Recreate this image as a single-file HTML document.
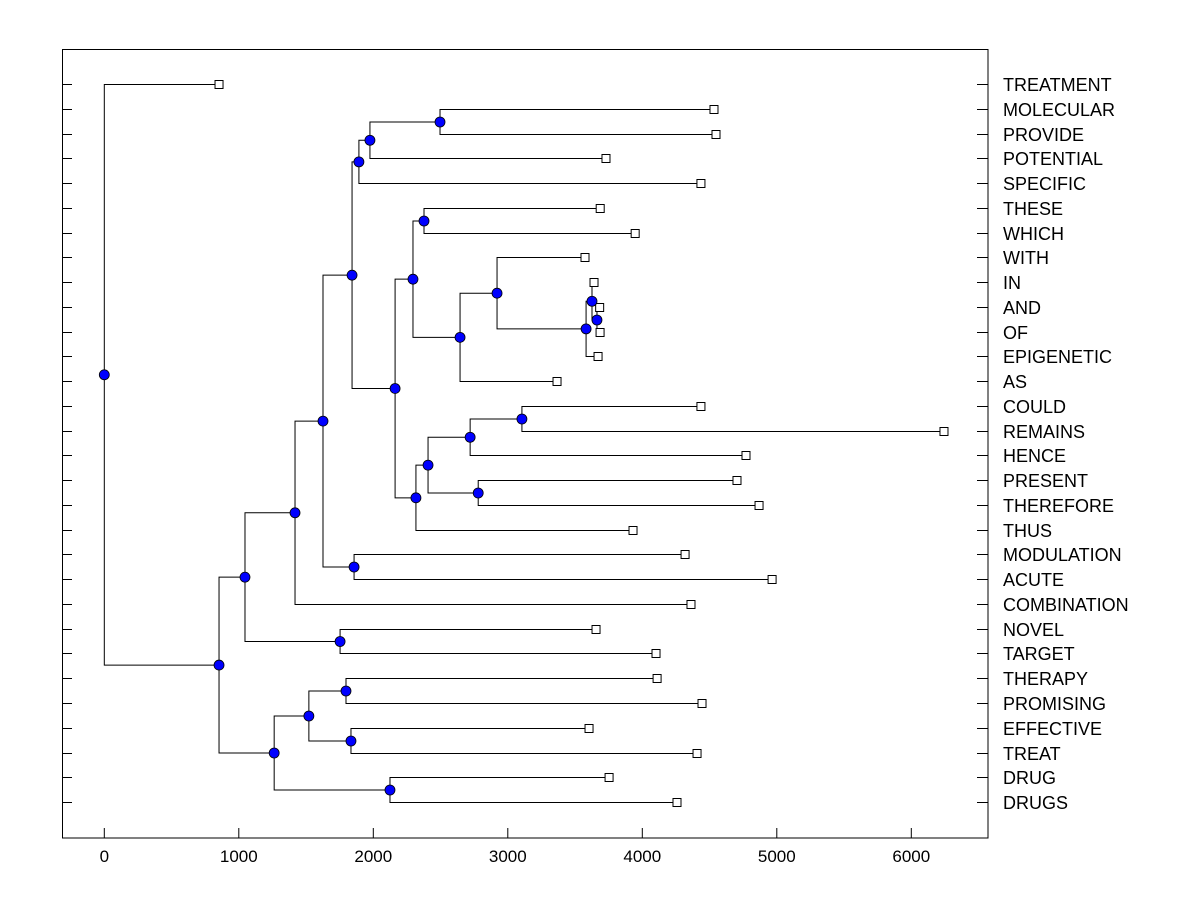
<!DOCTYPE html>
<html><head><meta charset="utf-8"><style>
html,body{margin:0;padding:0;background:#fff;}
svg{display:block;font-family:"Liberation Sans",Arial,sans-serif;}
</style></head><body>
<svg id="chart" width="1200" height="900" viewBox="0 0 1200 900" xmlns="http://www.w3.org/2000/svg">
<rect x="0" y="0" width="1200" height="900" fill="#fff"/>
<rect x="62.5" y="49.5" width="925.5" height="788.5" fill="none" stroke="#000" stroke-width="1"/>
<g id="axes"></g>
<g id="links"></g>
<g id="marks"></g>
</svg>
<script>
const leaves = ["TREATMENT","MOLECULAR","PROVIDE","POTENTIAL","SPECIFIC","THESE","WHICH","WITH","IN","AND","OF","EPIGENETIC","AS","COULD","REMAINS","HENCE","PRESENT","THEREFORE","THUS","MODULATION","ACUTE","COMBINATION","NOVEL","TARGET","THERAPY","PROMISING","EFFECTIVE","TREAT","DRUG","DRUGS"];
const leafValues = [853,4533,4548,3730,4436,3687,3947,3574,3641,3683,3686,3671,3366,4436,6243,4771,4704,4868,3931,4318,4965,4362,3656,4102,4110,4444,3604,4407,3753,4258];
// merges: [nodeName, childA, childB]
const mergeNodes = [
 ["mp","MOLECULAR","PROVIDE"],["pot","mp","POTENTIAL"],["spec","pot","SPECIFIC"],
 ["tw","THESE","WHICH"],["ao","AND","OF"],["in","IN","ao"],["epi","in","EPIGENETIC"],
 ["with","WITH","epi"],["as","with","AS"],["twas","tw","as"],
 ["cr","COULD","REMAINS"],["hence","cr","HENCE"],["pt","PRESENT","THEREFORE"],["prt","hence","pt"],["lower","prt","THUS"],
 ["big","twas","lower"],["top","spec","big"],["ma","MODULATION","ACUTE"],["A","top","ma"],["B","A","COMBINATION"],
 ["nt","NOVEL","TARGET"],["C","B","nt"],["tp","THERAPY","PROMISING"],["et","EFFECTIVE","TREAT"],["F","tp","et"],
 ["dd","DRUG","DRUGS"],["E","F","dd"],["D","C","E"],["root","TREATMENT","D"]
];
const mergeHeights = [2496,1975,1893,2377,3663,3626,3582,2920,2645,2295,3105,2720,2780,2407,2317,2162,1842,1857,1626,1418,1753,1046,1797,1834,1521,2124,1263,853,0];
const xTicks = [0,1000,2000,3000,4000,5000,6000];

const NS="http://www.w3.org/2000/svg";
const xs = v => 104.3 + v*0.1345;
const ys = i => 84 + i*24.76;
function mk(tag, attrs, parent){const e=document.createElementNS(NS,tag);for(const k in attrs)e.setAttribute(k,attrs[k]);parent.appendChild(e);return e;}
const axes=document.getElementById('axes'), links=document.getElementById('links'), marks=document.getElementById('marks');

xTicks.forEach(t=>{
  const x=xs(t);
  const l=mk('line',{x1:x,y1:828,x2:x,y2:838,stroke:'#000'},axes);
  
  
  const tx=mk('text',{x:x,y:862,'text-anchor':'middle','font-size':'17'},axes);
  tx.textContent=t;
  
  
});

const pos={};
leaves.forEach((n,i)=>{
  const y=Math.round(ys(i))+0.5;
  pos[n]={x:xs(leafValues[i]),y:y,leaf:true};
  const t1=mk('line',{x1:62,y1:y,x2:72,y2:y,stroke:'#000'},axes);
  
  
  const t2=mk('line',{x1:977,y1:y,x2:988,y2:y,stroke:'#000'},axes);
  
  
  const lb=mk('text',{x:1003,y:y+6.5,'font-size':'18'},axes);
  lb.textContent=n;
  
  
});
mergeNodes.forEach((m,i)=>{
  const a=pos[m[1]], b=pos[m[2]];
  const x=xs(mergeHeights[i]), y=(a.y+b.y)/2;
  pos[m[0]]={x:x,y:y,leaf:false};
  const p=mk('path',{d:`M${a.x},${a.y}H${x}V${b.y}H${b.x}`,fill:'none',stroke:'#000','stroke-width':'1'},links);
  
  
});
leaves.forEach(n=>{
  const p=pos[n];
  const r=mk('rect',{x:p.x-4,y:p.y-4,width:8,height:8,fill:'#fff',stroke:'#000'},marks);
  
  
});
mergeNodes.forEach(m=>{
  const p=pos[m[0]];
  const c=mk('circle',{cx:p.x,cy:p.y,r:5,fill:'#0000ff',stroke:'#000','stroke-width':'0.8'},marks);
  
  
});
</script>
</body></html>
